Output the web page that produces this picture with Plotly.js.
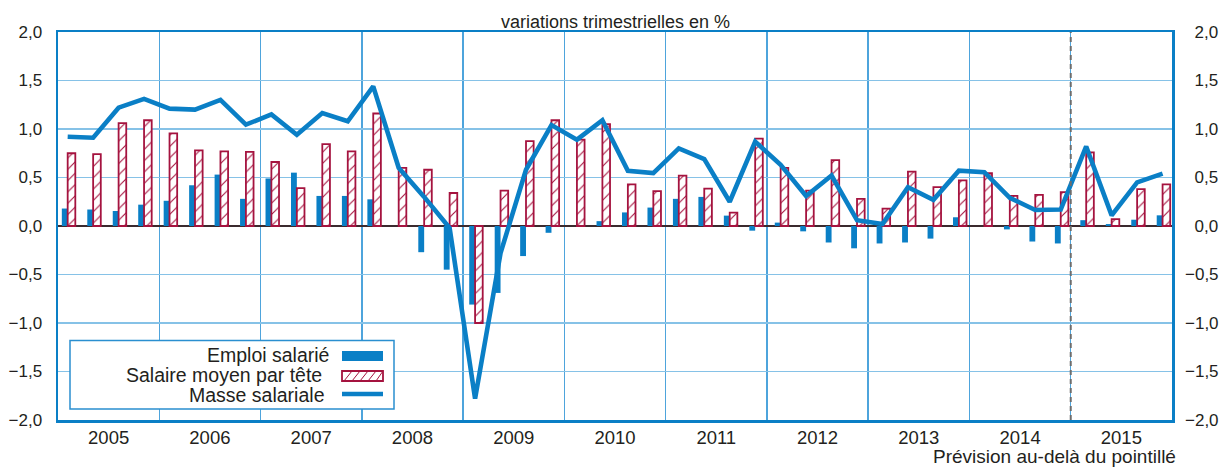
<!DOCTYPE html>
<html>
<head>
<meta charset="utf-8">
<script src="https://cdn.plot.ly/plotly-3.0.1.min.js"></script>
<style>
  html, body { margin: 0; padding: 0; background: #fff; }
  #plot { width: 1219px; height: 468px; }
</style>
</head>
<body>
<div id="plot"></div>
<script>
// trimestres 2005 T1 -> 2015 T4
var annees = ['2005', '2006', '2007', '2008', '2009', '2010', '2011', '2012', '2013', '2014', '2015'];

var emploi = [0.18, 0.17, 0.155, 0.22, 0.26, 0.42, 0.53, 0.28, 0.49, 0.55, 0.31, 0.31,
  0.275, 0, -0.27, -0.45, -0.81, -0.69, -0.31, -0.07, 0, 0.05, 0.14, 0.19,
  0.28, 0.30, 0.107, -0.048, 0.035, -0.055, -0.17, -0.23, -0.18, -0.17, -0.13, 0.09,
  0, -0.035, -0.16, -0.18, 0.06, 0.02, 0.065, 0.11];

var salaire = [0.75, 0.74, 1.06, 1.09, 0.955, 0.78, 0.77, 0.765, 0.66, 0.39, 0.845, 0.77,
  1.16, 0.60, 0.58, 0.34, -1.0, 0.365, 0.875, 1.09, 0.89, 1.05, 0.43, 0.36,
  0.52, 0.385, 0.138, 0.90, 0.60, 0.365, 0.68, 0.28, 0.18, 0.56, 0.40, 0.47,
  0.545, 0.31, 0.32, 0.35, 0.76, 0.07, 0.38, 0.43];

var masse = [0.92, 0.91, 1.22, 1.31, 1.21, 1.20, 1.30, 1.045, 1.15, 0.94, 1.165, 1.08,
  1.44, 0.60, 0.30, -0.02, -1.78, -0.28, 0.58, 1.04, 0.89, 1.09, 0.57, 0.545,
  0.80, 0.69, 0.25, 0.87, 0.63, 0.31, 0.52, 0.06, 0.02, 0.40, 0.27, 0.57,
  0.555, 0.29, 0.165, 0.17, 0.82, 0.11, 0.45, 0.54];

var yTicks = [-2, -1.5, -1, -0.5, 0, 0.5, 1, 1.5, 2];
var debutPrevision = 2015;

var BLEU = '#0a7fc6';
var ROUGE = '#a5133f';
var GRILLE = '#86c2e7';
var TEXTE = '#231f20';
var FONT = 'Liberation Sans, Arial, sans-serif';

var idx = masse.map(function (v, i) { return i; });
var ansNum = annees.map(Number);

var trEmploi = {
  type: 'bar', x: idx, y: emploi, name: 'Emploi salarié',
  width: 0.23, offset: -0.23,
  marker: {color: BLEU, line: {width: 0}},
  hoverinfo: 'y'
};

var trSalaire = {
  type: 'bar', x: idx, y: salaire, name: 'Salaire moyen par tête',
  width: 0.3, offset: 0,
  marker: {
    color: 'white',
    line: {color: ROUGE, width: 1.8},
    pattern: {shape: '/', fgcolor: ROUGE, bgcolor: 'white', size: 8, solidity: 0.14}
  },
  hoverinfo: 'y'
};

var trMasse = {
  type: 'scatter', mode: 'lines', x: idx, y: masse, name: 'Masse salariale',
  yaxis: 'y2',
  line: {color: BLEU, width: 4.6},
  hoverinfo: 'y'
};

// trace vide pour porter l'axe des années
var trAnnees = {
  type: 'scatter', mode: 'markers', x: ansNum, y: ansNum.map(function () { return null; }),
  xaxis: 'x2', hoverinfo: 'skip', showlegend: false
};

// position des éléments de la légende (en px de l'image)
var L = 58, R = 1172, T = 32, B = 420;
function px(v) { return (v - L) / (R - L); }
function py(v) { return (B - v) / (B - T); }

var shapes = [
  {type: 'line', xref: 'x2', yref: 'paper', x0: debutPrevision, x1: debutPrevision, y0: 0, y1: 1,
   line: {color: '#6d6d6d', width: 2, dash: '5px,4px'}},
  // cadre de la légende
  {type: 'rect', xref: 'paper', yref: 'paper', x0: px(70), x1: px(394), y0: py(409), y1: py(340.5),
   fillcolor: 'white', line: {color: '#2a8fd0', width: 1.5}, layer: 'above'},
  {type: 'rect', xref: 'paper', yref: 'paper', x0: px(342), x1: px(383), y0: py(361), y1: py(351),
   fillcolor: BLEU, line: {width: 0}, layer: 'above'},
  {type: 'rect', xref: 'paper', yref: 'paper', x0: px(342), x1: px(383), y0: py(381), y1: py(371),
   fillcolor: 'white', line: {color: ROUGE, width: 1.8}, layer: 'above'},
  {type: 'line', xref: 'paper', yref: 'paper', x0: px(342), x1: px(383), y0: py(394), y1: py(394),
   line: {color: BLEU, width: 4.5}, layer: 'above'}
];
for (var h = 344; h < 383; h += 8) {
  shapes.push({type: 'line', xref: 'paper', yref: 'paper',
    x0: px(h), x1: px(Math.min(h + 8, 383)), y0: py(381), y1: py(371),
    line: {color: ROUGE, width: 1}, layer: 'above'});
}

var annotations = [
  {xref: 'paper', yref: 'paper', x: 0.5, y: py(21.5), xanchor: 'center', yanchor: 'middle',
   text: 'variations trimestrielles en %', showarrow: false, font: {size: 18, color: TEXTE}},
  {xref: 'paper', yref: 'paper', x: px(1177), y: py(468), xanchor: 'right', yanchor: 'bottom',
   borderpad: 0,
   text: 'Prévision au-delà du pointillé', showarrow: false, font: {size: 19, color: TEXTE}},
  {xref: 'paper', yref: 'paper', x: px(331), y: py(355), xanchor: 'right', yanchor: 'middle',
   text: 'Emploi salarié', showarrow: false, font: {size: 19.5, color: TEXTE}},
  {xref: 'paper', yref: 'paper', x: px(324), y: py(375), xanchor: 'right', yanchor: 'middle',
   text: 'Salaire moyen par tête', showarrow: false, font: {size: 19.5, color: TEXTE}},
  {xref: 'paper', yref: 'paper', x: px(326), y: py(394.5), xanchor: 'right', yanchor: 'middle',
   text: 'Masse salariale', showarrow: false, font: {size: 19.5, color: TEXTE}}
];

var layout = {
  width: 1219, height: 468,
  margin: {l: L, r: 1219 - R, t: T, b: 468 - B},
  paper_bgcolor: 'white', plot_bgcolor: 'white',
  font: {family: FONT, color: TEXTE, size: 17},
  separators: ', ',
  showlegend: false,
  barmode: 'overlay',
  xaxis: {
    range: [-0.38, 43.37], showgrid: false, zeroline: false,
    showticklabels: false, ticks: '',
    showline: true, mirror: true, linecolor: BLEU, linewidth: 2.5
  },
  xaxis2: {
    overlaying: 'x', anchor: 'y', side: 'bottom',
    range: [2005, 2016],
    tickmode: 'array',
    tickvals: ansNum.map(function (a) { return a + 0.5; }),
    ticktext: annees,
    ticks: '', showgrid: false, zeroline: false, showline: false,
    ticklabelstandoff: 4,
    tickfont: {size: 18.5},
    minor: {tick0: 2005, dtick: 1, showgrid: true, gridcolor: '#4ea4dc', gridwidth: 1.5, ticks: ''}
  },
  yaxis: {
    range: [-2, 2], tickmode: 'array', tickvals: yTicks,
    tickformat: '.1f', ticks: '',
    showgrid: true, gridcolor: GRILLE, gridwidth: 1.5,
    zeroline: true, zerolinecolor: '#3b2a2e', zerolinewidth: 2.2,
    showline: true, mirror: true, linecolor: BLEU, linewidth: 2.5,
    ticklabelstandoff: 10
  },
  yaxis2: {
    overlaying: 'y', side: 'right', anchor: 'x',
    range: [-2, 2], tickmode: 'array', tickvals: yTicks,
    ticktext: yTicks.map(function (v) {
      var s = Math.abs(v).toFixed(1).replace('.', ',');
      return v < 0 ? '\u2212' + s : '\u2007' + s;
    }),
    ticks: '', showgrid: false, zeroline: false, showline: false,
    ticklabelstandoff: 12
  },
  shapes: shapes,
  annotations: annotations
};

Plotly.newPlot('plot', [trEmploi, trSalaire, trAnnees, trMasse], layout, {displayModeBar: false, staticPlot: true});
</script>
</body>
</html>
